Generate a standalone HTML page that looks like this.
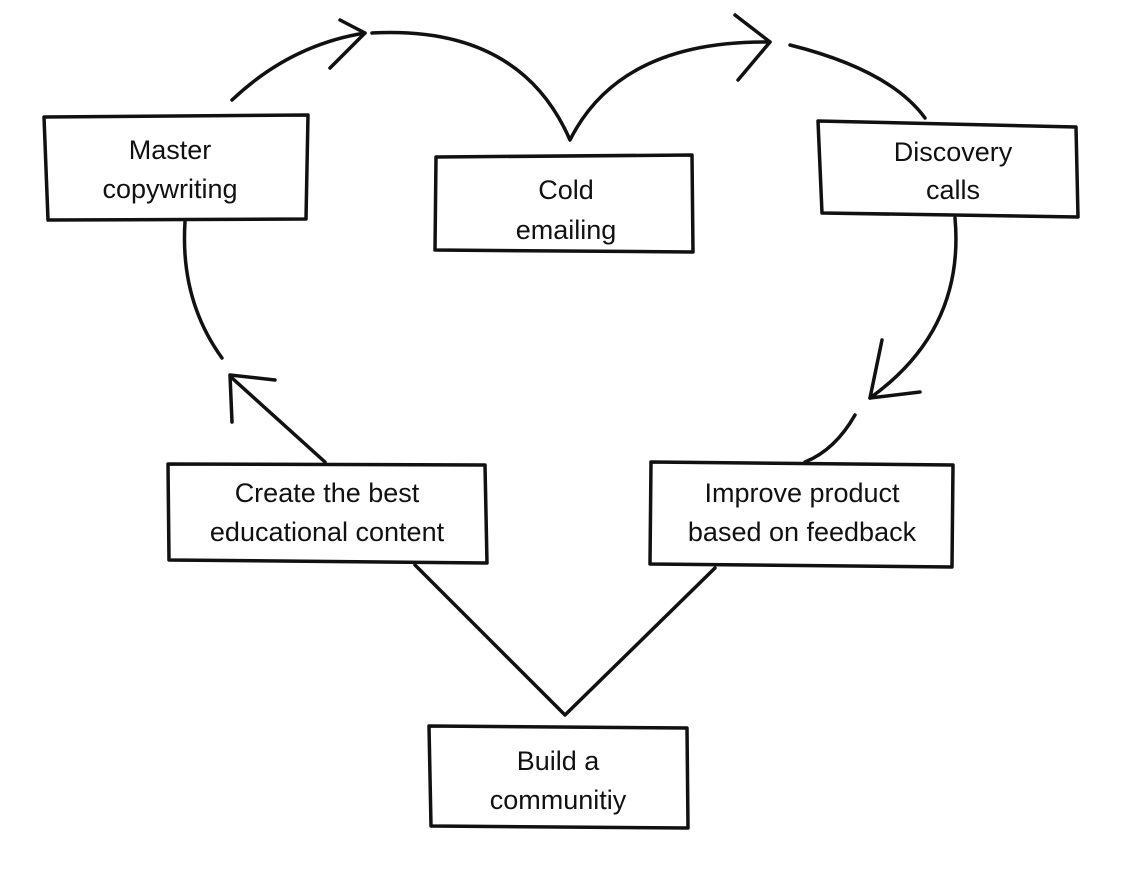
<!DOCTYPE html>
<html><head><meta charset="utf-8"><style>
html,body{margin:0;padding:0;background:#fff;}
svg{display:block;}
text{font-family:"Liberation Sans",sans-serif;font-size:27px;fill:#111;text-anchor:middle;}
</style></head><body>
<svg width="1122" height="872" viewBox="0 0 1122 872" xmlns="http://www.w3.org/2000/svg">
<g fill="none" stroke="#111" stroke-width="3.5" stroke-linecap="round" stroke-linejoin="round">
<path d="M44 117 L308 115 L306 219 L48 220 Z"/>
<path d="M436 157 L692 155 L693 252 L435 250 Z"/>
<path d="M818 121 L1076 127 L1078 217 L822 213 Z"/>
<path d="M168 464 L485 465 L487 563 L169 560 Z"/>
<path d="M651 462 L953 465 L952 567 L650 564 Z"/>
<path d="M429 726 L687 728 L688 828 L431 826 Z"/>
<path d="M232 100 Q290 45 365 33"/>
<path d="M340 20 L365 33 L330 68"/>
<path d="M372 33 Q520 25 570 140 Q620 40 770 42"/>
<path d="M735 15 L770 42 L738 80"/>
<path d="M790 45 Q890 70 925 118"/>
<path d="M955 218 Q965 330 870 398"/>
<path d="M882 340 L870 398 L920 392"/>
<path d="M855 415 Q835 450 805 462"/>
<path d="M715 568 L565 715 L415 565"/>
<path d="M325 462 L232 378"/>
<path d="M275 380 L230 375 L232 422"/>
<path d="M222 358 Q180 300 185 222"/>
</g>
<text x="170" y="159">Master</text>
<text x="170" y="198">copywriting</text>
<text x="566" y="199">Cold</text>
<text x="566" y="239">emailing</text>
<text x="953" y="161">Discovery</text>
<text x="953" y="199">calls</text>
<text x="327" y="502">Create the best</text>
<text x="327" y="541">educational content</text>
<text x="802" y="502">Improve product</text>
<text x="802" y="541">based on feedback</text>
<text x="558" y="770">Build a</text>
<text x="558" y="809">communitiy</text>
</svg>
</body></html>
